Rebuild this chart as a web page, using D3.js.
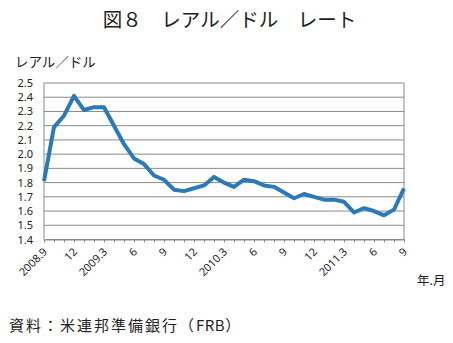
<!DOCTYPE html>
<html>
<head>
<meta charset="utf-8">
<script src="https://cdn.jsdelivr.net/npm/d3@7"></script>
<style>
  body { margin: 0; background: #fff; }
  text { font-family: "Noto Sans CJK JP", "Noto Sans", sans-serif; fill: #222; }
</style>
</head>
<body>
<svg id="chart" width="453" height="343"></svg>
<script>
// Monthly real/dollar rate, Sep 2008 – Sep 2011
const months = d3.range(37);
const rates = [1.81, 2.19, 2.27, 2.41, 2.31, 2.33, 2.33, 2.20, 2.07, 1.97, 1.93, 1.85,
               1.82, 1.75, 1.74, 1.76, 1.78, 1.84, 1.80, 1.77, 1.82, 1.81, 1.78, 1.77,
               1.73, 1.69, 1.72, 1.70, 1.68, 1.68, 1.665, 1.59, 1.62, 1.60, 1.57, 1.61, 1.76];
const tickIndex = [0, 3, 6, 9, 12, 15, 18, 21, 24, 27, 30, 33, 36];
const tickLabels = ["2008.9", "12", "2009.3", "6", "9", "12", "2010.3", "6", "9", "12", "2011.3", "6", "9"];
const yTicks = [1.4, 1.5, 1.6, 1.7, 1.8, 1.9, 2.0, 2.1, 2.2, 2.3, 2.4, 2.5];

const svg = d3.select("#chart");
const plotL = 44, plotR = 404, plotT = 83, plotB = 239.5;

const x = d3.scaleLinear().domain([0, 36]).range([plotL, plotR]);
const y = d3.scaleLinear().domain([1.4, 2.5]).range([plotB, plotT]);

// Title
svg.append("text").attr("x", 229.5).attr("y", 27).attr("text-anchor", "middle")
  .style("font-size", "19.5px").text("図８　レアル／ドル　レート");

// Unit label
svg.append("text").attr("x", 15).attr("y", 67).style("font-size", "13.5px").text("レアル／ドル");

// Horizontal gridlines
svg.append("g").selectAll("line").data(yTicks).join("line")
  .attr("x1", plotL).attr("x2", plotR)
  .attr("y1", d => y(d)).attr("y2", d => y(d))
  .attr("stroke", "#8a8a8a").attr("stroke-width", 1);

// Plot frame sides
svg.append("line").attr("x1", plotL).attr("x2", plotL).attr("y1", plotT).attr("y2", plotB)
  .attr("stroke", "#8a8a8a");
svg.append("line").attr("x1", plotR).attr("x2", plotR).attr("y1", plotT).attr("y2", plotB)
  .attr("stroke", "#8a8a8a");

// Y axis labels
const yAxis = d3.axisLeft(y).tickValues(yTicks).tickFormat(d3.format(".1f")).tickSize(0).tickPadding(11);
const gy = svg.append("g").attr("transform", `translate(${plotL},0)`).call(yAxis);
gy.select(".domain").remove();
gy.selectAll("text").style("font-size", "11px").style("font-family", "'Noto Sans', sans-serif").attr("fill", "#222");

// X axis with monthly ticks
const xAxis = d3.axisBottom(x).tickValues(months).tickFormat("").tickSize(3).tickSizeOuter(0);
const gx = svg.append("g").attr("transform", `translate(0,${plotB})`).call(xAxis);
gx.select(".domain").attr("stroke", "#8a8a8a");
gx.selectAll(".tick line").attr("stroke", "#8a8a8a");

// Rotated quarter labels
svg.append("g").selectAll("text").data(tickIndex).join("text")
  .attr("transform", d => `translate(${x(d) + 4},${plotB + 13}) rotate(-45)`)
  .attr("text-anchor", "end")
  .style("font-size", "11px").style("font-family", "'Noto Sans', sans-serif")
  .text((d, i) => tickLabels[i]);

svg.append("text").attr("x", 417).attr("y", 285).style("font-size", "12.5px").text("年.月");

// Rate line
const line = d3.line().x((d, i) => x(months[i])).y(d => y(d));
svg.append("path").datum(rates).attr("d", line)
  .attr("fill", "none").attr("stroke", "#2a79b8").attr("stroke-width", 4)
  .attr("stroke-linejoin", "round");

// Source
const src = svg.append("text").attr("x", 9).attr("y", 331).style("font-size", "15px");
src.append("tspan").style("letter-spacing", "2px").text("資料：米連邦準備銀行（");
src.append("tspan").style("letter-spacing", "0.5px").text("FRB");
src.append("tspan").text("）");
</script>
</body>
</html>
